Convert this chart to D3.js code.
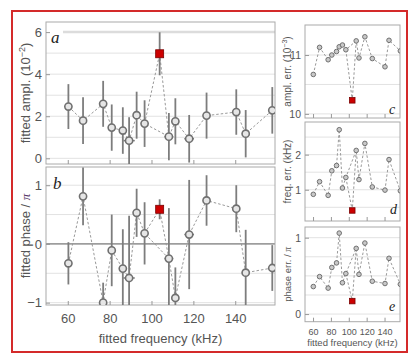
<!DOCTYPE html>
<html>
<head>
<meta charset="utf-8">
<script src="https://cdn.jsdelivr.net/npm/d3@7"></script>
<style>
  body { margin: 0; background: #fff; }
  svg text { font-family: "Liberation Sans", Arial, sans-serif; fill: #555; }
  .letter { font-family: "Liberation Serif", "DejaVu Serif", serif; font-style: italic; fill: #222; }
</style>
</head>
<body>
<div id="chart"></div>
<script>
// frequencies (kHz) and fitted values
const freq = [60.3, 67.3, 76.9, 81.0, 86.3, 89.3, 92.9, 96.7, 103.9, 108.3, 111.4, 118.0, 126.3, 140.5, 145.0, 157.7];
const ampl = [2.46, 1.79, 2.59, 1.46, 1.32, 0.84, 2.05, 1.65, 4.97, 1.03, 1.76, 0.93, 2.03, 2.20, 1.17, 2.28];
const phase = [-0.33, 0.81, -1.0, -0.11, -0.42, -0.58, 0.53, 0.18, 0.59, -0.25, -0.92, 0.16, 0.74, 0.60, -0.49, -0.41];
// errors (panels c, d, e)
const amplErr = [10.67, 11.13, 10.92, 11.0, 11.06, 11.14, 11.17, 11.09, 10.23, 11.24, 10.95, 11.31, 10.94, 10.80, 11.25, 11.07]; // 10^-3
const freqErr = [0.87, 1.23, 0.84, 1.54, 1.69, 2.71, 1.05, 1.35, 0.41, 2.12, 1.29, 2.32, 1.08, 0.99, 1.86, 0.97];
const phaseErr = [0.36, 0.49, 0.34, 0.61, 0.67, 1.06, 0.41, 0.53, 0.17, 0.86, 0.52, 0.93, 0.43, 0.40, 0.73, 0.39];
const highlight = 8;

const xTicks = [60, 80, 100, 120, 140];

const svg = d3.select("#chart").append("svg")
    .attr("width", 415)
    .attr("height", 363);

svg.append("rect")
    .attr("x", 12).attr("y", 11)
    .attr("width", 395).attr("height", 341)
    .attr("fill", "none")
    .attr("stroke", "#d42a2a")
    .attr("stroke-width", 2);

let clipId = 0;

function panel(opt) {
    const x = d3.scaleLinear().domain(opt.xd).range(opt.xr);
    const y = d3.scaleLinear().domain(opt.yd).range(opt.yr);
    const g = svg.append("g");
    const id = "clip" + (clipId++);
    g.append("clipPath").attr("id", id).append("rect")
        .attr("x", opt.xr[0]).attr("y", opt.yr[1])
        .attr("width", opt.xr[1] - opt.xr[0]).attr("height", opt.yr[0] - opt.yr[1]);

    // grid
    g.selectAll(".grid").data(opt.grid).enter().append("line")
        .attr("x1", opt.xr[0]).attr("x2", opt.xr[1])
        .attr("y1", d => y(d)).attr("y2", d => y(d))
        .attr("stroke", "#e2e2e2").attr("stroke-width", 1);

    if (opt.extra) opt.extra(g, x, y);

    // frame
    g.append("rect")
        .attr("x", opt.xr[0]).attr("y", opt.yr[1])
        .attr("width", opt.xr[1] - opt.xr[0]).attr("height", opt.yr[0] - opt.yr[1])
        .attr("fill", "none").attr("stroke", "#aaa").attr("stroke-width", 1);

    // axes
    const ax = g.append("g")
        .attr("transform", `translate(0,${opt.yr[0]})`)
        .call(d3.axisBottom(x).tickValues(xTicks).tickSize(-4)
            .tickPadding(opt.xPad || 8)
            .tickFormat(opt.xLabels ? d3.format("d") : ""));
    ax.select(".domain").remove();
    ax.selectAll("line").attr("stroke", "#999");
    ax.selectAll("text").style("font-size", opt.fs + "px").attr("fill", "#555");

    const ay = g.append("g")
        .attr("transform", `translate(${opt.xr[0]},0)`)
        .call(d3.axisLeft(y).tickValues(opt.yTicks).tickSize(-4)
            .tickPadding(opt.yPad || 4)
            .tickFormat(d => d < 0 ? "\u2212" + Math.abs(d) : d));
    ay.select(".domain").remove();
    ay.selectAll("line").attr("stroke", "#999");
    ay.selectAll("text").style("font-size", opt.yfs + "px").attr("fill", "#555");

    const inner = g.append("g").attr("clip-path", `url(#${id})`);

    const pts = freq.map((f, i) => ({f: f, v: opt.vals[i], e: opt.errs ? opt.errs[i] : 0, fe: freqErr[i], i: i}));
    const normal = pts.filter(d => d.i !== highlight);

    inner.append("path")
        .datum(normal)
        .attr("d", d3.line().x(d => x(d.f)).y(d => y(d.v)))
        .attr("fill", "none")
        .attr("stroke", "#999")
        .attr("stroke-width", 1)
        .attr("stroke-dasharray", "2.5,2");

    // dashed links to highlighted point
    const hp = pts[highlight];
    [pts[highlight - 1], pts[highlight + 1]].forEach(n => {
        inner.append("line")
            .attr("x1", x(n.f)).attr("y1", y(n.v))
            .attr("x2", x(hp.f)).attr("y2", y(hp.v))
            .attr("stroke", "#999").attr("stroke-width", 1)
            .attr("stroke-dasharray", "2.5,2");
    });

    if (opt.errs) {
        inner.selectAll(".ebar").data(pts).enter().append("line")
            .attr("x1", d => x(d.f)).attr("x2", d => x(d.f))
            .attr("y1", d => y(d.v - d.e)).attr("y2", d => y(d.v + d.e))
            .attr("stroke", "#7d7d7d").attr("stroke-width", 1.8);
        inner.selectAll(".hbar").data(pts).enter().append("line")
            .attr("x1", d => x(d.f - d.fe)).attr("x2", d => x(d.f + d.fe))
            .attr("y1", d => y(d.v)).attr("y2", d => y(d.v))
            .attr("stroke", "#7d7d7d").attr("stroke-width", 1.5);
    }

    inner.selectAll(".pt").data(normal).enter().append("circle")
        .attr("cx", d => x(d.f)).attr("cy", d => y(d.v))
        .attr("r", opt.r)
        .attr("fill", opt.big ? "#e6e6e6" : "#c8c8c8")
        .attr("stroke", "#707070")
        .attr("stroke-width", opt.big ? 1.6 : 1);

    const s = opt.sq;
    inner.append("rect")
        .attr("x", x(hp.f) - s / 2).attr("y", y(hp.v) - s / 2)
        .attr("width", s).attr("height", s)
        .attr("fill", "#cc0000").attr("stroke", "#7a0000").attr("stroke-width", 0.8);

    // labels
    g.append("text").attr("class", "letter")
        .attr("x", opt.letterPos[0]).attr("y", opt.letterPos[1])
        .style("font-size", opt.letterSize + "px")
        .text(opt.letter);

    const yl = g.append("text")
        .attr("transform", `translate(${opt.ylx},${(opt.yr[0] + opt.yr[1]) / 2}) rotate(-90)`)
        .attr("text-anchor", "middle")
        .style("font-size", opt.lfs + "px");
    opt.ylabel(yl);

    if (opt.xlabel) {
        g.append("text")
            .attr("x", (opt.xr[0] + opt.xr[1]) / 2).attr("y", opt.xly)
            .attr("text-anchor", "middle")
            .style("font-size", opt.lfs + "px")
            .text("fitted frequency (kHz)");
    }
}

// panel a
panel({
    xd: [49.6, 159], xr: [46, 275], yd: [-0.27, 6.48], yr: [164, 22],
    vals: ampl, errs: amplErr.map(d => d / 10),
    grid: [0, 1, 2, 3, 4, 5], yTicks: [0, 2, 4, 6],
    extra: (g, x, y) => {
        g.append("line").attr("x1", 63).attr("x2", 275)
            .attr("y1", y(6)).attr("y2", y(6))
            .attr("stroke", "#dcdcdc").attr("stroke-width", 2.5);
    },
    fs: 13, yfs: 13, lfs: 13, r: 3.6, sq: 8, big: true,
    letter: "a", letterPos: [51, 43], letterSize: 17,
    ylx: 30,
    ylabel: t => { t.text("fitted ampl. (10"); t.append("tspan").attr("dy", -5).style("font-size", "9px").text("\u22122"); t.append("tspan").attr("dy", 5).text(")"); }
});

// panel b
panel({
    xd: [49.6, 159], xr: [46, 275], yd: [-1.04, 1.31], yr: [305, 167],
    vals: phase, errs: phaseErr,
    grid: [-1, -0.5, 0.5, 1], yTicks: [-1, 0, 1],
    extra: (g, x, y) => {
        g.append("line").attr("x1", 46).attr("x2", 275)
            .attr("y1", y(0)).attr("y2", y(0))
            .attr("stroke", "#555").attr("stroke-width", 1);
    },
    fs: 13, yfs: 13, lfs: 13, r: 3.6, sq: 8, big: true, xLabels: true, xPad: 9,
    letter: "b", letterPos: [53, 189], letterSize: 17,
    ylx: 30, xlabel: true, xly: 343,
    ylabel: t => { t.text("fitted phase / "); t.append("tspan").style("font-family", "Liberation Serif, serif").style("font-style", "italic").attr("fill", "#5a3a6a").text("\u03c0"); }
});

// panel c
panel({
    xd: [51, 157.3], xr: [305, 400], yd: [9.93, 11.51], yr: [118, 25],
    vals: amplErr,
    grid: [10, 10.5, 11], yTicks: [10, 11],
    fs: 9, yfs: 10.5, lfs: 10, r: 2.3, sq: 5.5,
    letter: "c", letterPos: [389, 114], letterSize: 14,
    ylx: 291,
    ylabel: t => { t.text("ampl. err. (10"); t.append("tspan").attr("dy", -4).style("font-size", "7px").text("\u22123"); t.append("tspan").attr("dy", 4).text(")"); }
});

// panel d
panel({
    xd: [51, 157.3], xr: [305, 400], yd: [0.11, 2.93], yr: [221, 122],
    vals: freqErr,
    grid: [0.5, 1, 1.5, 2, 2.5], yTicks: [1, 2],
    fs: 9, yfs: 10.5, lfs: 10, r: 2.3, sq: 5.5,
    letter: "d", letterPos: [390, 214], letterSize: 14,
    ylx: 291,
    ylabel: t => t.text("freq. err. (kHz)")
});

// panel e
panel({
    xd: [51, 157.3], xr: [305, 400], yd: [-0.1, 1.14], yr: [321.7, 227],
    vals: phaseErr,
    grid: [0, 0.25, 0.5, 0.75, 1], yTicks: [0, 1],
    fs: 9, yfs: 10.5, lfs: 9.5, r: 2.3, sq: 5.5, xLabels: true, xPad: 7,
    letter: "e", letterPos: [389, 311], letterSize: 14,
    ylx: 291, xlabel: true, xly: 346,
    ylabel: t => { t.text("phase err. / "); t.append("tspan").style("font-family", "Liberation Serif, serif").style("font-style", "italic").text("\u03c0"); }
});
</script>
</body>
</html>
